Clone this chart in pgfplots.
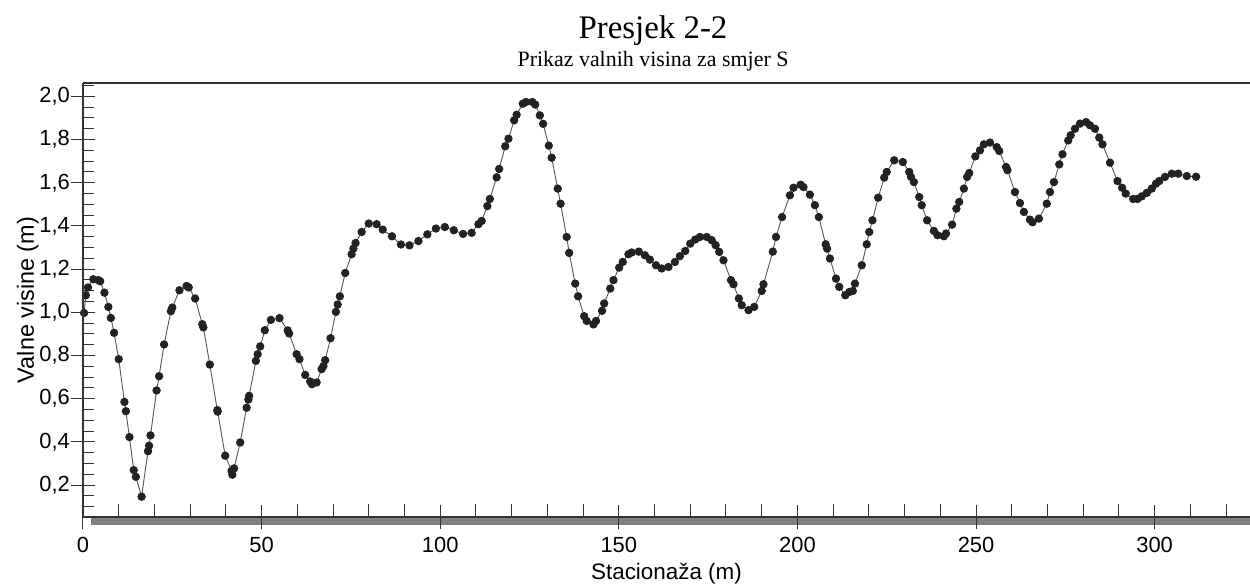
\documentclass[border=0pt]{standalone}
\usepackage{pgfplots}
\pgfplotsset{compat=1.18}
\usepackage{fontspec}
\setmainfont{Liberation Sans}
\newfontfamily\timesfont{Liberation Serif}
\definecolor{axisc}{HTML}{333333}
\definecolor{barc}{HTML}{808080}
\definecolor{markc}{HTML}{222222}
\definecolor{linec}{HTML}{555555}
\pgfplotstableread{
x y
0.3 0.997
0.8 1.079
1.4 1.115
2.9 1.153
4.3 1.149
4.8 1.144
6.0 1.091
7.1 1.025
7.8 0.974
8.7 0.905
10.0 0.783
11.6 0.585
12.0 0.542
13.0 0.422
14.2 0.269
14.8 0.238
16.4 0.146
18.2 0.357
18.5 0.382
18.9 0.430
20.6 0.638
21.3 0.704
22.7 0.851
24.6 1.005
25.0 1.022
27.0 1.102
29.0 1.122
29.6 1.115
31.4 1.064
33.4 0.945
33.7 0.930
35.5 0.758
37.6 0.547
37.7 0.540
39.8 0.336
41.6 0.266
41.8 0.248
42.3 0.277
44.0 0.397
45.8 0.558
46.3 0.596
46.5 0.613
48.4 0.775
48.9 0.806
49.6 0.842
50.9 0.917
52.6 0.965
55.0 0.973
57.3 0.916
57.7 0.902
59.8 0.806
60.6 0.783
62.2 0.710
63.6 0.680
64.1 0.667
65.4 0.675
66.8 0.737
67.3 0.751
67.8 0.778
69.3 0.880
70.8 1.002
71.3 1.036
71.9 1.074
73.4 1.182
75.2 1.269
75.7 1.295
76.3 1.321
78.0 1.372
80.0 1.411
82.2 1.408
83.9 1.383
86.5 1.352
89.0 1.314
91.4 1.310
93.9 1.330
96.4 1.361
98.8 1.388
101.3 1.395
103.8 1.380
106.4 1.363
108.8 1.368
110.7 1.408
111.6 1.423
113.2 1.492
113.9 1.525
115.8 1.625
116.5 1.664
118.2 1.769
119.1 1.804
120.7 1.889
121.4 1.915
123.1 1.966
124.0 1.974
125.8 1.974
126.6 1.962
127.9 1.912
128.8 1.873
130.4 1.772
131.2 1.716
132.9 1.573
133.7 1.503
135.4 1.349
136.1 1.275
137.8 1.133
138.6 1.074
140.3 0.982
141.0 0.960
142.9 0.944
143.6 0.960
145.3 1.007
145.9 1.041
147.6 1.110
148.5 1.149
150.1 1.207
151.1 1.233
152.7 1.269
153.6 1.277
155.6 1.281
157.3 1.264
158.7 1.244
160.4 1.218
162.0 1.203
163.9 1.210
165.7 1.233
167.1 1.260
168.6 1.284
170.0 1.318
171.4 1.337
172.7 1.349
174.6 1.349
176.0 1.334
177.1 1.311
178.1 1.280
179.3 1.241
181.4 1.149
182.1 1.130
183.6 1.064
184.4 1.033
186.3 1.010
187.9 1.025
190.0 1.099
190.5 1.130
193.1 1.281
194.0 1.349
195.7 1.441
197.9 1.542
198.9 1.577
200.9 1.591
201.7 1.580
203.5 1.545
204.9 1.496
206.0 1.441
207.9 1.315
208.3 1.295
209.1 1.249
210.8 1.156
211.7 1.118
213.4 1.079
214.5 1.094
215.5 1.099
216.1 1.133
218.0 1.218
219.4 1.315
220.1 1.372
221.0 1.426
222.6 1.531
224.3 1.624
225.0 1.650
227.1 1.704
229.5 1.696
231.3 1.650
231.8 1.627
232.6 1.603
234.1 1.534
234.8 1.496
236.3 1.426
238.2 1.377
239.2 1.357
241.0 1.352
241.6 1.365
243.3 1.406
244.5 1.480
245.3 1.511
246.6 1.573
247.5 1.627
248.1 1.645
249.8 1.722
251.1 1.750
252.2 1.778
253.9 1.786
255.8 1.765
256.5 1.747
258.4 1.673
258.8 1.658
260.9 1.557
262.3 1.506
263.4 1.465
265.1 1.429
265.8 1.417
267.6 1.434
269.8 1.503
270.7 1.557
271.8 1.603
273.3 1.685
274.2 1.732
275.8 1.796
276.5 1.820
277.7 1.850
279.1 1.874
280.8 1.881
281.9 1.866
283.3 1.850
284.5 1.809
285.4 1.778
287.5 1.693
289.6 1.608
290.9 1.577
291.9 1.550
294.0 1.525
295.2 1.525
296.4 1.537
297.8 1.553
299.2 1.573
300.4 1.596
301.3 1.608
302.9 1.627
304.8 1.642
306.6 1.642
309.0 1.631
311.6 1.628
}\datatable
\begin{document}
\begin{tikzpicture}
\useasboundingbox (-83bp,-68bp) rectangle (1167bp,517bp);
\fill[barc] (8.3bp,-8.3bp) rectangle (1167bp,-0.7bp);
\begin{axis}[
  at={(0,0)}, anchor=south west, scale only axis,
  width=1167bp, height=434bp,
  xmin=0, xmax=326.7, ymin=0.052, ymax=2.062,
  axis line style={draw=none},
  tick pos=left,
  tick align=center,
  major tick length=24bp,
  tick style={axisc, line width=1bp},
  xtick={0,50,100,150,200,250,300},
  xticklabels={0,50,100,150,200,250,300},
  ytick={0.2,0.4,0.6,0.8,1.0,1.2,1.4,1.6,1.8,2.0},
  yticklabels={{0,2},{0,4},{0,6},{0,8},{1,0},{1,2},{1,4},{1,6},{1,8},{2,0}},
  minor tick num=0,
  extra x ticks={10,20,30,40,60,70,80,90,110,120,130,140,160,170,180,190,210,220,230,240,260,270,280,290,310,320},
  extra x tick labels={},
  extra x tick style={tick align=inside, major tick length=13bp},
  extra y ticks={0.1,0.15,0.25,0.3,0.35,0.45,0.5,0.55,0.65,0.7,0.75,0.85,0.9,0.95,1.05,1.1,1.15,1.25,1.3,1.35,1.45,1.5,1.55,1.65,1.7,1.75,1.85,1.9,1.95,2.05},
  extra y tick labels={},
  extra y tick style={tick align=inside, major tick length=11bp},
  tick label style={font=\fontsize{22}{24}\selectfont, inner sep=0pt, text=black},
  xticklabel style={anchor=north, yshift=-8bp},
  yticklabel style={anchor=east, xshift=-1bp},
  xlabel={Stacionaža (m)},
  ylabel={Valne visine (m)},
  every axis x label/.style={at={(axis description cs:0.5,-0.1429)}, anchor=base, font=\fontsize{22.5}{26}\selectfont},
  every axis y label/.style={at={(axis description cs:-0.042,0.5)}, anchor=base, rotate=90, font=\fontsize{23.5}{26}\selectfont},
  clip=false,
]
\addplot[color=linec, line width=0.9bp, mark=*, mark size=3.7bp, mark options={fill=markc, draw=markc}] table[x=x,y=y] {\datatable};
\end{axis}
\draw[axisc, line width=1.3bp] (0,434bp) -- (0,0) -- (1167bp,0);
\draw[axisc, line width=1.3bp] (0,434bp) -- (1167bp,434bp);
\node[anchor=base, font=\timesfont\fontsize{33}{36}\selectfont] at (570bp,478bp) {Presjek 2-2};
\node[anchor=base, font=\timesfont\fontsize{22}{24}\selectfont] at (570bp,450.3bp) {Prikaz valnih visina za smjer S};
\end{tikzpicture}
\end{document}
